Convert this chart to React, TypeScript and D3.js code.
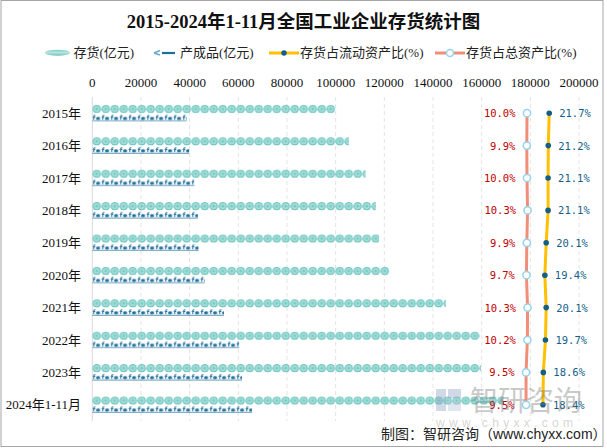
import React from 'react';
import * as d3 from 'd3';

const years = ['2015年', '2016年', '2017年', '2018年', '2019年', '2020年', '2021年', '2022年', '2023年', '2024年1-11月'];
// 存货(亿元)
const inventory = [99800, 105400, 112300, 116500, 117800, 122000, 145300, 159200, 159700, 169000];
// 产成品(亿元)
const finished = [38800, 39800, 42000, 43400, 43700, 46200, 54100, 60400, 61500, 65600];
// 存货占流动资产比(%)
const shareCurrent = [21.7, 21.2, 21.1, 21.1, 20.1, 19.4, 20.1, 19.7, 18.6, 18.4];
// 存货占总资产比(%)
const shareTotal = [10.0, 9.9, 10.0, 10.3, 9.9, 9.7, 10.3, 10.2, 9.5, 9.5];
const xTicks = [0, 20000, 40000, 60000, 80000, 100000, 120000, 140000, 160000, 180000, 200000];

const W = 607, H = 448;
const top = 97, bottom = 421, left = 92.3, right = 579;
const serif = '"Liberation Serif", "Noto Sans CJK SC", serif';
const mono = '"DejaVu Sans Mono", monospace';

export default function App() {
  const x = d3.scaleLinear().domain([0, 200000]).range([left, right]);
  // secondary (hidden) axis for the two ratio lines
  const x2 = d3.scaleLinear().domain([0, 40]).range([508, 584]);
  const y = d3.scaleBand().domain(years).range([top, bottom]).paddingInner(0.475).paddingOuter(0.2375);
  const inner = d3.scaleBand().domain(['inv', 'fin']).range([0, y.bandwidth()]);
  const step = y.step();
  const mid = (d: string) => (y(d) as number) + y.bandwidth() / 2;
  const off = (y(years[0]) as number) - top;
  const bh = inner.bandwidth();

  const line = d3.line<number>().x(d => x2(d)).y((d, i) => mid(years[i]));

  return (
    <svg width={W} height={H} style={{ position: 'fixed', left: 0, top: 0, background: '#fff' }}>
      <defs>
        <pattern id="dots" patternUnits="userSpaceOnUse" x={left} y={top} width={9} height={step}>
          <circle cx={4.5} cy={off + bh / 2} r={4.2} fill="#66c3bc" />
          <circle cx={4.5} cy={off + bh / 2} r={2.6} fill="#93d5cf" stroke="#c8ece8" strokeWidth={0.7} />
          <circle cx={4.5} cy={off + bh / 2} r={0.9} fill="#6cc6bf" />
        </pattern>
        <pattern id="fa" patternUnits="userSpaceOnUse" x={left} y={top} width={9} height={step}>
          <g transform={`translate(0,${off + bh + 2})`} stroke="#1f6f9b" fill="none" strokeWidth={1}>
            <path d="M1.5,4.5 V1 Q1.8,0 3.2,0.3 M0.5,2 H3" />
            <ellipse cx={5.6} cy={3.2} rx={1.4} ry={1.1} fill="#1f6f9b" />
            <path d="M7,2 V4.5" />
            <path d="M0,5.6 H9" strokeWidth={0.8} />
          </g>
        </pattern>
        <linearGradient id="legInv" x1="0" x2="0" y1="0" y2="1">
          <stop offset="0" stopColor="#7fcbc4" />
          <stop offset="0.5" stopColor="#b9e4df" />
          <stop offset="1" stopColor="#66c3bc" />
        </linearGradient>
      </defs>

      <rect x={1} y={0.5} width={602} height={446} fill="#fff" stroke="#a6a6a6" />

      <text x={303.5} y={28} textAnchor="middle" fontFamily={serif} fontWeight="bold" fontSize={18.5} fill="#111">
        2015-2024年1-11月全国工业企业存货统计图
      </text>

      {/* legend */}
      <g fontFamily={serif} fontSize={13} fill="#222">
        <ellipse cx={57.5} cy={52.7} rx={12.5} ry={3} fill="url(#legInv)" />
        <text x={73.5} y={57.3}>存货(亿元)</text>
        <path d="M154,53 L160,50.5 M154,53 L160,55" stroke="#6aa9c8" strokeWidth={1.6} />
        <path d="M162,53 H175" stroke="#1f6f9b" strokeWidth={2.2} />
        <text x={180} y={57.3}>产成品(亿元)</text>
        <path d="M269,53 H299" stroke="#ffc000" strokeWidth={3} />
        <circle cx={284} cy={53} r={2.7} fill="#135f88" />
        <text x={300} y={57.3}>存货占流动资产比(%)</text>
        <path d="M435,53 H465" stroke="#ef8f7a" strokeWidth={3} />
        <circle cx={450} cy={53} r={3.5} fill="#fff" stroke="#96d2ea" strokeWidth={1.5} />
        <text x={466} y={57.3}>存货占总资产比(%)</text>
      </g>

      {/* x axis labels & grid */}
      <g fontFamily={serif} fontSize={13} fill="#111">
        {xTicks.map(t => (
          <text key={t} x={x(t)} y={87} textAnchor="middle">{t}</text>
        ))}
      </g>
      {xTicks.slice(1).map(t => (
        <line key={t} x1={x(t)} x2={x(t)} y1={top} y2={bottom} stroke="#e4e4e4" strokeDasharray="4,3" />
      ))}
      <line x1={x(0)} x2={x(0)} y1={top} y2={bottom} stroke="#d9d9d9" />

      {/* category labels */}
      <g fontFamily={serif} fontSize={13} fill="#111">
        {years.map(d => (
          <text key={d} x={81} y={mid(d) + 4.5} textAnchor="end">{d}</text>
        ))}
      </g>

      {/* bars */}
      {years.map((d, i) => (
        <g key={d}>
          <rect x={x(0)} y={(y(d) as number) + (inner('inv') as number)} width={x(inventory[i]) - x(0)} height={bh} fill="url(#dots)" />
          <rect x={x(0)} y={(y(d) as number) + (inner('fin') as number)} width={x(finished[i]) - x(0)} height={bh} fill="url(#fa)" />
        </g>
      ))}

      {/* ratio lines */}
      <path d={line(shareTotal) || ''} fill="none" stroke="#ef8f7a" strokeWidth={3} />
      <path d={line(shareCurrent) || ''} fill="none" stroke="#ffc000" strokeWidth={3} />
      {years.map((d, i) => (
        <g key={d} fontFamily={mono} fontSize={10.5}>
          <circle cx={x2(shareTotal[i])} cy={mid(d)} r={3.6} fill="#fff" stroke="#96d2ea" strokeWidth={1.5} />
          <circle cx={x2(shareCurrent[i])} cy={mid(d)} r={2.8} fill="#135f88" />
          <text x={x2(shareTotal[i]) - 11.5} y={mid(d) + 4} textAnchor="end" fill="#c00000">
            {shareTotal[i].toFixed(1)}%
          </text>
          <text x={x2(shareCurrent[i]) + 10} y={mid(d) + 4} fill="#135f88">
            {shareCurrent[i].toFixed(1)}%
          </text>
        </g>
      ))}

      {/* watermark */}
      <g opacity={0.4}>
        <rect x={436} y={389} width={10} height={22} fill="#8fa3c4" />
        <rect x={448} y={389} width={13} height={9} fill="#8fa3c4" />
        <rect x={448} y={401} width={13} height={10} fill="#b5c2d8" />
        <text x={470} y={411} fontFamily='"Noto Sans CJK SC", sans-serif' fontSize={28} fill="#7a7a7a">智研咨询</text>
        <text x={436} y={427} fontFamily='"Liberation Sans", sans-serif' fontSize={12} letterSpacing={4.3} fill="#9a9a9a">www.chyxx.com</text>
      </g>

      <text x={381} y={438.5} fontFamily='"Liberation Sans", "Noto Sans CJK SC", sans-serif' fontSize={14} fill="#222">
        制图：智研咨询（www.chyxx.com）
      </text>
    </svg>
  );
}
